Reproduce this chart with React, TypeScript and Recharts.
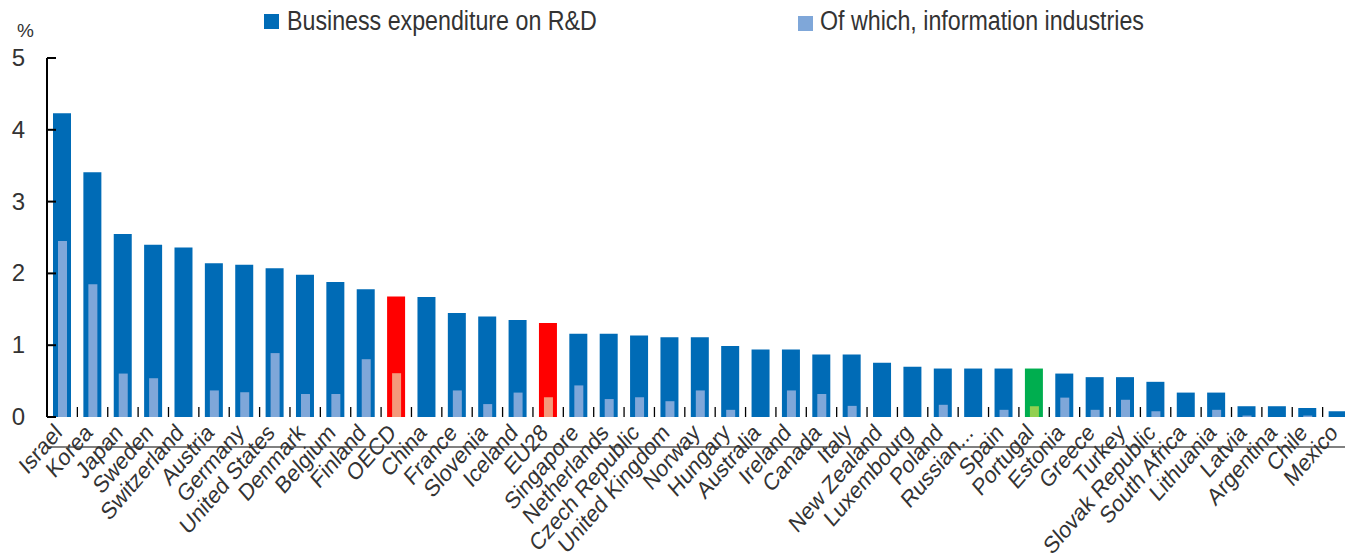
import { BarChart, Bar, XAxis, YAxis, Cell, Legend } from 'recharts';

// Business enterprise R&D expenditure, % of GDP
const countries = [
  'Israel', 'Korea', 'Japan', 'Sweden', 'Switzerland', 'Austria', 'Germany', 'United States',
  'Denmark', 'Belgium', 'Finland', 'OECD', 'China', 'France', 'Slovenia', 'Iceland', 'EU28',
  'Singapore', 'Netherlands', 'Czech Republic', 'United Kingdom', 'Norway', 'Hungary',
  'Australia', 'Ireland', 'Canada', 'Italy', 'New Zealand', 'Luxembourg', 'Poland',
  'Russian...', 'Spain', 'Portugal', 'Estonia', 'Greece', 'Turkey', 'Slovak Republic',
  'South Africa', 'Lithuania', 'Latvia', 'Argentina', 'Chile', 'Mexico',
];

const businessRD = [
  4.23, 3.41, 2.55, 2.4, 2.36, 2.14, 2.12, 2.07, 1.98, 1.88, 1.78, 1.68, 1.67, 1.45, 1.4,
  1.35, 1.31, 1.16, 1.16, 1.135, 1.11, 1.11, 0.99, 0.94, 0.94, 0.87, 0.87, 0.755, 0.7,
  0.675, 0.675, 0.675, 0.675, 0.605, 0.555, 0.555, 0.49, 0.34, 0.34, 0.15, 0.15, 0.125, 0.08,
];

const infoIndustries = [
  2.45, 1.85, 0.605, 0.54, 0, 0.37, 0.345, 0.89, 0.32, 0.32, 0.805, 0.61, 0, 0.37, 0.18,
  0.34, 0.275, 0.44, 0.25, 0.275, 0.22, 0.37, 0.1, 0, 0.37, 0.32, 0.155, 0, 0, 0.17, 0,
  0.1, 0.15, 0.27, 0.1, 0.24, 0.08, 0, 0.1, 0.02, 0, 0.02, 0,
];

const yTicks = [0, 1, 2, 3, 4, 5];

const DARK = '#006bb6';
const LIGHT = '#7fa7d9';
const TEXT = '#333333';
const FONT = "'Liberation Sans', Arial, sans-serif";
const NARROW = 0.86; // the source uses a condensed face

const CHART_W = 1353;
const CHART_H = 559;
const X_AXIS_H = 142;
const AXIS_Y = CHART_H - X_AXIS_H;

// highlighted aggregates / country: [main bar, inner bar]
const highlight: Record<string, [string, string]> = {
  OECD: ['#ff0000', '#f4997b'],
  EU28: ['#ff0000', '#f4997b'],
  Portugal: ['#00ae4f', '#92d050'],
};

const data = countries.map((name, i) => ({
  name,
  berd: businessRD[i],
  info: infoIndustries[i],
}));

function CountryTick(props: any) {
  const { x, payload, index, width } = props;
  const half = payload.offset ?? width / countries.length / 2;
  const px = x + 1;
  const py = AXIS_Y + 17;
  return (
    <g>
      {index < countries.length - 1 && (
        <line x1={x + half} x2={x + half} y1={AXIS_Y - 10} y2={AXIS_Y} stroke="#000" strokeWidth={1.3} />
      )}
      <text
        x={0}
        y={0}
        textAnchor="end"
        fill={TEXT}
        fontSize={24}
        fontFamily={FONT}
        transform={`translate(${px}, ${py}) scale(${NARROW}, 1) rotate(-45)`}
      >
        {payload.value}
      </text>
    </g>
  );
}

function ValueTick(props: any) {
  const { x, y, payload } = props;
  return (
    <g>
      <line x1={x} x2={x + 9} y1={y} y2={y} stroke="#000" strokeWidth={2} />
      <text x={x - 22} y={y + 8} textAnchor="end" fill={TEXT} fontSize={24} fontFamily={FONT}>
        {payload.value}
      </text>
    </g>
  );
}

function TopLegend() {
  const label = {
    position: 'absolute' as const,
    top: 8,
    fontSize: 27,
    lineHeight: '27px',
    color: TEXT,
    whiteSpace: 'nowrap' as const,
    transform: `scaleX(${NARROW})`,
    transformOrigin: 'left',
  };
  return (
    <div style={{ position: 'relative', width: CHART_W, height: 40, fontFamily: FONT }}>
      <div style={{ position: 'absolute', left: 17, top: 21, fontSize: 19, lineHeight: '19px', color: TEXT }}>%</div>
      <div style={{ position: 'absolute', left: 264, top: 14, width: 15, height: 15, background: DARK }} />
      <div style={{ ...label, left: 287 }}>Business expenditure on R&amp;D</div>
      <div style={{ position: 'absolute', left: 798, top: 16, width: 15, height: 15, background: LIGHT }} />
      <div style={{ ...label, left: 820 }}>Of which, information industries</div>
    </div>
  );
}

export default function App() {
  return (
    <div style={{ position: 'absolute', left: 0, top: 0, width: 1345, height: CHART_H, overflow: 'hidden', background: '#fff' }}>
      <BarChart width={CHART_W} height={CHART_H} data={data} margin={{ top: 18, right: 0, bottom: 0, left: 0 }}>
        <Legend
          verticalAlign="top"
          align="left"
          height={40}
          wrapperStyle={{ top: 0, left: 0, width: CHART_W, height: 40 }}
          content={() => <TopLegend />}
        />
        <XAxis
          xAxisId="main"
          dataKey="name"
          interval={0}
          height={X_AXIS_H}
          tickSize={0}
          tickMargin={0}
          tickLine={false}
          axisLine={{ stroke: '#808080', strokeWidth: 2 }}
          tick={<CountryTick />}
        />
        <XAxis xAxisId="inner" dataKey="name" hide />
        <YAxis
          domain={[0, 5]}
          ticks={yTicks}
          width={47}
          tickSize={0}
          tickMargin={0}
          tickLine={false}
          axisLine={{ stroke: '#000', strokeWidth: 2 }}
          tick={<ValueTick />}
        />
        <Bar dataKey="berd" xAxisId="main" barSize={18} fill={DARK} isAnimationActive={false}>
          {data.map((d) => (
            <Cell key={d.name} fill={highlight[d.name]?.[0] ?? DARK} />
          ))}
        </Bar>
        <Bar dataKey="info" xAxisId="inner" barSize={9} fill={LIGHT} isAnimationActive={false}>
          {data.map((d) => (
            <Cell key={d.name} fill={highlight[d.name]?.[1] ?? LIGHT} />
          ))}
        </Bar>
      </BarChart>
    </div>
  );
}
